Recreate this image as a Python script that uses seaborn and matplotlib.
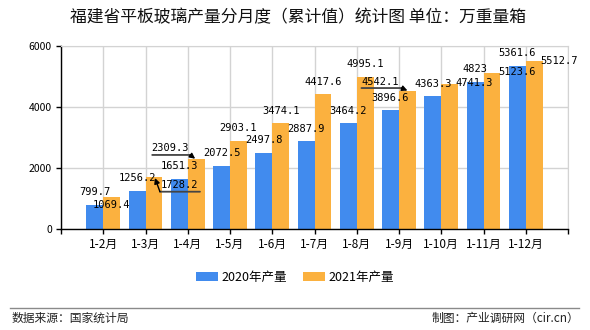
import matplotlib
matplotlib.use('Agg')
import matplotlib.pyplot as plt
import seaborn as sns
import pandas as pd
from matplotlib.lines import Line2D

# ---- data ----
categories = ['1-2月', '1-3月', '1-4月', '1-5月', '1-6月', '1-7月',
              '1-8月', '1-9月', '1-10月', '1-11月', '1-12月']
values_2020 = [799.7, 1256.2, 1651.3, 2072.5, 2497.8, 2887.9,
               3464.2, 3896.6, 4363.3, 4823, 5361.6]
values_2021 = [1069.4, 1728.2, 2309.3, 2903.1, 3474.1, 4417.6,
               4995.1, 4542.1, 4741.3, 5123.6, 5512.7]
series_names = ['2020年产量', '2021年产量']
y_ticks = [0, 2000, 4000, 6000]
title = '福建省平板玻璃产量分月度（累计值）统计图 单位：万重量箱'
source_text = '数据来源：国家统计局'
credit_text = '制图：产业调研网（cir.cn）'

# ---- label layout (pixel offsets of label centre from bar top, y up) ----
std_off = (0, 12.5)
offsets_2021 = [(0, -8.4), (25.7, -8.5), (-26, 10.8), std_off, std_off, std_off,
                std_off, (-27, 8.8), (24.6, 1), (24.8, 0.5), (25, 0)]
# callout lines: index -> (underline x0, x1, y, arrow start, arrow tip) in px rel. to bar top
callouts_2021 = {
    1: ((6, 46, -15.2), (6, -15.2), (1, -1.5)),
    2: ((-44, -6, 3.8), (-6, 3.8), (-1, 0)),
    7: ((-46, -6, 2.5), (-6, 2.5), (0, 0)),
}

blue = '#418BEE'
orange = '#FBB13F'

df = pd.DataFrame({
    '月份': categories * 2,
    '产量': values_2020 + values_2021,
    '年份': [series_names[0]] * len(categories) + [series_names[1]] * len(categories),
})

plt.rcParams['font.family'] = ['Noto Sans CJK SC', 'DejaVu Sans']

W, H = 590, 330
fig = plt.figure(figsize=(W / 100, H / 100), dpi=100)
ax_l, ax_r, ax_t, ax_b = 61, 568, 46, 229.3
ax = fig.add_axes([ax_l / W, 1 - ax_b / H, (ax_r - ax_l) / W, (ax_b - ax_t) / H])

sns.barplot(data=df, x='月份', y='产量', hue='年份', palette=[blue, orange],
            width=0.8, saturation=1, ax=ax, errorbar=None)

ax.set_xlim(-1, len(categories))
ax.set_ylim(0, 6000)
ax.set_xlabel('')
ax.set_ylabel('')
ax.set_yticks(y_ticks)
ax.set_yticklabels([str(v) for v in y_ticks], fontsize=7.5)
xt = list(range(-1, len(categories) + 1))
ax.set_xticks(xt)
ax.set_xticklabels([''] + categories + [''], fontsize=8.5)
ax.tick_params(axis='both', direction='out', length=3.5, width=1, color='black', pad=3)
ax.set_axisbelow(True)
ax.grid(True, color='#d3d3d3', lw=1)
for s in ['top', 'right']:
    ax.spines[s].set_color('#d3d3d3')
for s in ['left', 'bottom']:
    ax.spines[s].set_color('black')
    ax.spines[s].set_linewidth(1)

# legend
sns.move_legend(ax, 'center', bbox_to_anchor=((295 - ax_l) / (ax_r - ax_l), (ax_b - 277) / (ax_b - ax_t)),
                ncol=2, frameon=False, title=None, fontsize=9,
                handlelength=1.75, handleheight=0.75, handletextpad=0.25, columnspacing=1.3)

# data labels
px = 0.72  # points per pixel
mono = 'DejaVu Sans Mono'
for ci, cont in enumerate(ax.containers):
    vals = values_2020 if ci == 0 else values_2021
    for i, bar in enumerate(cont):
        xc = bar.get_x() + bar.get_width() / 2
        top = bar.get_height()
        dx, dy = std_off if ci == 0 else offsets_2021[i]
        label = f'{vals[i]:g}' if vals[i] != int(vals[i]) else f'{int(vals[i])}'
        ax.annotate(label, xy=(xc, top), xytext=(dx * px, dy * px), textcoords='offset points',
                    ha='center', va='center', fontsize=7.5, family=mono, color='black',
                    annotation_clip=False)
        if ci == 1 and i in callouts_2021:
            (ux0, ux1, uy), (ax0, ay0), (tx, ty) = callouts_2021[i]
            bx, by = ax.transData.transform((xc, top))
            ax.annotate('', xy=(bx + ux1, by + uy), xycoords='figure pixels',
                        xytext=(bx + ux0, by + uy), textcoords='figure pixels',
                        arrowprops=dict(arrowstyle='-', color='#444444', lw=1.3,
                                        shrinkA=0, shrinkB=0), annotation_clip=False)
            ax.annotate('', xy=(bx + tx, by + ty), xycoords='figure pixels',
                        xytext=(bx + ax0, by + ay0), textcoords='figure pixels',
                        arrowprops=dict(arrowstyle='-|>', color='black', lw=1,
                                        mutation_scale=8, shrinkA=0, shrinkB=0),
                        annotation_clip=False)

# title and footer
fig.text(298 / W, 1 - 18 / H, title, ha='center', va='center', fontsize=12.1, color='#111111')
fig.add_artist(Line2D([10 / W, 579 / W], [1 - 308 / H] * 2, color='#8a8a8a', lw=1))
fig.text(12 / W, 1 - 318 / H, source_text, ha='left', va='center', fontsize=8.5, color='#222222')
fig.text(579 / W, 1 - 318 / H, credit_text, ha='right', va='center', fontsize=8.5, color='#222222')

fig.savefig('out.png', dpi=100)
